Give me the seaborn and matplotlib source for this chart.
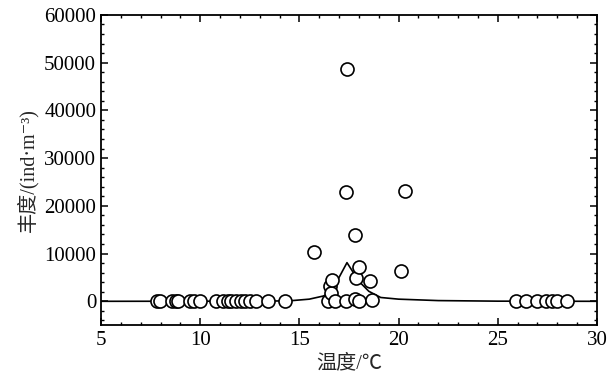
import matplotlib
matplotlib.use("Agg")
import matplotlib.pyplot as plt
import seaborn as sns
import pandas as pd
from matplotlib.ticker import MultipleLocator

# observed points
temp = [7.80, 7.97, 8.56, 8.77, 8.87, 9.48, 9.68, 9.98, 10.82, 11.14, 11.39,
        11.57, 11.83, 12.08, 12.24, 12.50, 12.83, 13.42, 14.26,
        15.76, 16.43, 16.52, 16.60, 16.65, 16.78, 17.33, 17.36, 17.39,
        17.78, 17.80, 17.86, 18.03, 18.03, 18.57, 18.67, 20.12, 20.34,
        25.91, 26.41, 27.00, 27.42, 27.75, 28.00, 28.50]
abund = [0, 0, 0, 0, 0, 0, 0, 0, 0, 0, 0,
         0, 0, 0, 0, 0, 0, 0, 0,
         10400, 0, 3300, 1700, 4500, 0, 22900, 0, 48600,
         400, 13800, 4800, 7100, 0, 4300, 300, 6400, 23200,
         0, 0, 0, 0, 0, 0, 0]

# fitted curve
fit_x = [5, 13, 14.5, 15.5, 16.2, 16.6, 17.0, 17.4, 18.0, 18.5, 19.1, 20.0,
         21.0, 22.0, 25.0, 30.0]
fit_y = [0, 30, 100, 450, 1100, 1800, 5000, 8100, 4200, 2100, 800, 450,
         300, 150, 30, 0]

pts = pd.DataFrame({"t": temp, "a": abund})
fit = pd.DataFrame({"t": fit_x, "a": fit_y})

sns.set_style("ticks")
plt.rcParams["font.family"] = ["Liberation Serif", "Noto Sans CJK SC", "DejaVu Serif"]

fig = plt.figure(figsize=(6.07, 3.83), dpi=100)
ax = fig.add_axes([0.1664, 0.151, 0.8170, 0.810])

sns.lineplot(data=fit, x="t", y="a", sort=False, color="black", linewidth=1.2,
             ax=ax, zorder=2)
sns.scatterplot(data=pts, x="t", y="a", s=88, facecolor="white",
                edgecolor="black", linewidth=1.2, ax=ax, zorder=3)

ax.set_xlim(5, 30)
ax.set_ylim(-5000, 60000)
ax.xaxis.set_major_locator(MultipleLocator(5))
ax.xaxis.set_minor_locator(MultipleLocator(1))
ax.yaxis.set_major_locator(MultipleLocator(10000))
ax.yaxis.set_minor_locator(MultipleLocator(2000))
ax.tick_params(which="both", direction="in", top=True, right=True,
               labelsize=15, colors="black")
ax.tick_params(axis="x", pad=4)
ax.tick_params(which="major", length=5, width=1.1)
ax.tick_params(which="minor", length=2.5, width=1.0)
for s in ax.spines.values():
    s.set_linewidth(1.3)
    s.set_color("black")

ax.set_xlabel("温度/℃", fontsize=14.5, labelpad=3)
ax.set_ylabel("丰度/(ind·m⁻³)", fontsize=14.5, labelpad=4)

fig.savefig("out.png", dpi=100)
